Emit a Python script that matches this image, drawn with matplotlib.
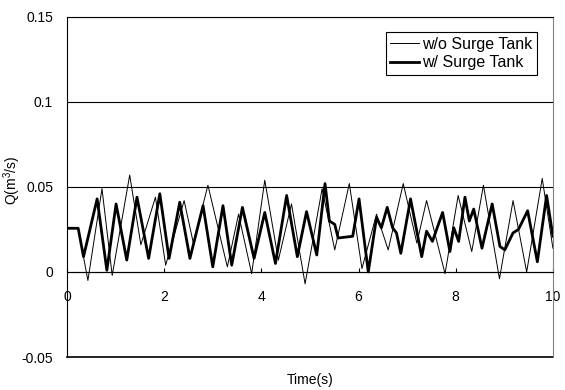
import numpy as np
import matplotlib
matplotlib.use("Agg")
import matplotlib.pyplot as plt

plt.rcParams['font.family'] = ['Liberation Sans', 'DejaVu Sans']
plt.rcParams['mathtext.default'] = 'regular'

t_wo = [0, 0.23, 0.43, 0.72, 0.93, 1.29, 1.52, 1.82, 2.03, 2.41, 2.60, 2.90,
        3.30, 3.53, 3.80, 4.07, 4.35, 4.62, 4.90, 5.25, 5.51, 5.81, 6.07, 6.37,
        6.61, 6.92, 7.20, 7.40, 7.78, 8.05, 8.33, 8.57, 8.90, 9.18, 9.46, 9.78, 10.0]
q_wo = [0.0257, 0.0257, -0.005, 0.049, -0.002, 0.057, 0.016, 0.044, 0.004, 0.042,
        0.017, 0.051, 0.003, 0.034, -0.001, 0.054, 0.007, 0.040, -0.007, 0.049,
        0.013, 0.052, 0.002, 0.034, 0.013, 0.052, 0.017, 0.042, -0.001, 0.045,
        0.012, 0.051, -0.004, 0.042, 0.0, 0.055, 0.014]

# w/ surge tank (thick line)
t_w = [0, 0.23, 0.34, 0.62, 0.82, 1.01, 1.23, 1.44, 1.68, 1.91, 2.10, 2.32,
       2.53, 2.80, 3.00, 3.21, 3.39, 3.61, 3.85, 4.07, 4.29, 4.52, 4.74, 4.93,
       5.14, 5.31, 5.40, 5.51, 5.58, 5.88, 6.01, 6.20, 6.37, 6.47, 6.59, 6.70,
       6.78, 6.87, 7.07, 7.30, 7.40, 7.52, 7.73, 7.88, 7.96, 8.06, 8.19, 8.28,
       8.37, 8.54, 8.75, 8.91, 9.01, 9.18, 9.29, 9.48, 9.68, 9.87, 10.0]
q_w = [0.0257, 0.0257, 0.009, 0.043, 0.001, 0.040, 0.007, 0.044, 0.008, 0.046,
       0.008, 0.041, 0.008, 0.039, 0.003, 0.039, 0.004, 0.038, 0.008, 0.035,
       0.005, 0.045, 0.009, 0.0355, 0.010, 0.052, 0.030, 0.028, 0.020, 0.021,
       0.043, 0.000, 0.032, 0.026, 0.038, 0.026, 0.023, 0.011, 0.043, 0.009,
       0.024, 0.018, 0.035, 0.012, 0.026, 0.018, 0.044, 0.030, 0.037, 0.014,
       0.040, 0.015, 0.013, 0.023, 0.025, 0.036, 0.006, 0.045, 0.021]

xticks = [0, 2, 4, 6, 8, 10]
yticks = [-0.05, 0, 0.05, 0.1, 0.15]
ylabels = ['-0.05', '0', '0.05', '0.1', '0.15']

fig = plt.figure(figsize=(5.65, 3.9), dpi=100)
ax = fig.add_axes([0.1186, 0.0846, 0.860, 0.872])

ax.plot(t_wo, q_wo, color='black', lw=0.7, label='w/o Surge Tank',
        solid_joinstyle='round')
ax.plot(t_w, q_w, color='black', lw=2.0, label='w/ Surge Tank',
        solid_joinstyle='round')

ax.set_xlim(0, 10)
ax.set_ylim(-0.05, 0.15)
ax.set_xticks(xticks)
ax.set_xticklabels([str(x) for x in xticks])
ax.set_yticks(yticks)
ax.set_yticklabels(ylabels)
ax.yaxis.grid(True, color='black', lw=0.8)

ax.spines['bottom'].set_position(('data', 0))
ax.spines['bottom'].set_linewidth(0.8)
ax.spines['left'].set_linewidth(0.8)
ax.spines['top'].set_linewidth(0.8)
ax.spines['right'].set_color('#808080')
ax.axhline(-0.05, color='black', lw=1.2, clip_on=False)

ax.tick_params(axis='x', direction='in', length=3, pad=13, labelsize=10)
ax.tick_params(axis='y', length=0, pad=10, labelsize=10)

ax.text(-0.112, 0.52, r'Q(m$^3$/s)', transform=ax.transAxes, rotation=90,
        ha='center', va='center', fontsize=10)
ax.text(0.5, -0.068, 'Time(s)', transform=ax.transAxes, ha='center',
        va='center', fontsize=10)

leg = ax.legend(loc='upper right', bbox_to_anchor=(0.968, 0.955), fancybox=False,
                edgecolor='black', framealpha=1, fontsize=11.5, handlelength=1.8,
                borderpad=0.3, labelspacing=0.2, handletextpad=0.2,
                borderaxespad=0)
leg.get_frame().set_linewidth(0.8)

fig.savefig('out.png', dpi=100)
